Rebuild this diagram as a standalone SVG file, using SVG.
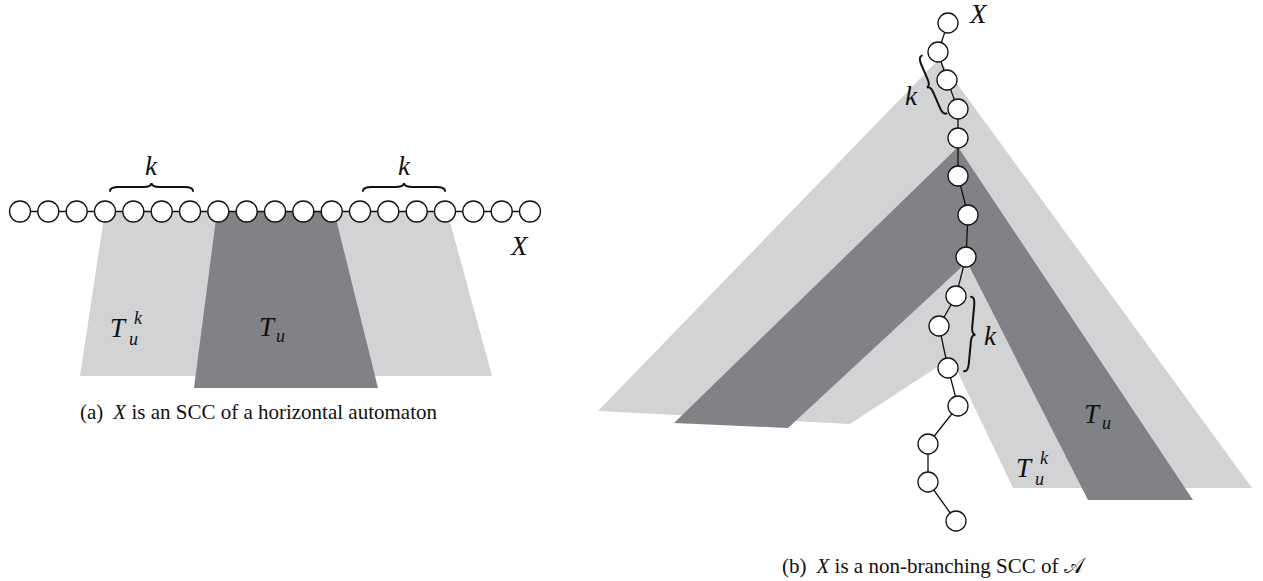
<svg xmlns="http://www.w3.org/2000/svg" width="1263" height="581" viewBox="0 0 1263 581">
<style>
.light{fill:#d1d3d4;stroke:none}
.dark{fill:#808285;stroke:none}
.edge{stroke:#111;stroke-width:1.3;fill:none}
.node circle{fill:#fff;stroke:#111;stroke-width:1.3}
.brace{fill:none;stroke:#111;stroke-width:2;stroke-linecap:round}
.math{font-family:"Liberation Serif",serif;font-style:italic;font-size:27px;fill:#111}
.sub{font-size:18px}
.cap{font-family:"Liberation Serif",serif;font-size:21px;fill:#111}
.cap .it{font-style:italic}
</style>

<!-- (a) shapes -->
<g id="shapes-a">
<polygon class="light" points="105,211 447,211 492,376 80,376"/>
<polygon class="dark" points="217,211 334,211 378,388 194,388"/>
</g>
<!-- (b) shapes -->
<g id="shapes-b">
<polygon class="light" points="939,59 598,411 850,424 951,358 1013,488 1252,488"/>
<polygon class="dark" points="958,147 674,423 788,428 967,262 1088,500 1193,500"/>
</g>

<g id="connectors">
<line class="edge" x1="20" y1="211.5" x2="530" y2="211.5"/>
<polyline class="edge" points="948,23 938,52 947,80 958,109 958,138 958,176 968,215 966,257 956,296 939,326 948,368 958,406 928,444 928,482 956,521"/>
</g>

<g id="nodes-a" class="node">
<circle id="a0" cx="20" cy="211.5" r="10.5"/>
<circle id="a1" cx="48.3" cy="211.5" r="10.5"/>
<circle id="a2" cx="76.7" cy="211.5" r="10.5"/>
<circle id="a3" cx="105" cy="211.5" r="10.5"/>
<circle id="a4" cx="133.3" cy="211.5" r="10.5"/>
<circle id="a5" cx="161.7" cy="211.5" r="10.5"/>
<circle id="a6" cx="190" cy="211.5" r="10.5"/>
<circle id="a7" cx="218.3" cy="211.5" r="10.5"/>
<circle id="a8" cx="246.7" cy="211.5" r="10.5"/>
<circle id="a9" cx="275" cy="211.5" r="10.5"/>
<circle id="a10" cx="303.3" cy="211.5" r="10.5"/>
<circle id="a11" cx="331.7" cy="211.5" r="10.5"/>
<circle id="a12" cx="360" cy="211.5" r="10.5"/>
<circle id="a13" cx="388.3" cy="211.5" r="10.5"/>
<circle id="a14" cx="416.7" cy="211.5" r="10.5"/>
<circle id="a15" cx="445" cy="211.5" r="10.5"/>
<circle id="a16" cx="473.3" cy="211.5" r="10.5"/>
<circle id="a17" cx="501.7" cy="211.5" r="10.5"/>
<circle id="a18" cx="530" cy="211.5" r="10.5"/>
</g>

<g id="nodes-b" class="node">
<circle id="b0" cx="948" cy="23" r="10"/>
<circle id="b1" cx="938" cy="52" r="10"/>
<circle id="b2" cx="947" cy="80" r="10"/>
<circle id="b3" cx="958" cy="109" r="10"/>
<circle id="b4" cx="958" cy="138" r="10"/>
<circle id="b5" cx="958" cy="176" r="10"/>
<circle id="b6" cx="968" cy="215" r="10"/>
<circle id="b7" cx="966" cy="257" r="10"/>
<circle id="b8" cx="956" cy="296" r="10"/>
<circle id="b9" cx="939" cy="326" r="10"/>
<circle id="b10" cx="948" cy="368" r="10"/>
<circle id="b11" cx="958" cy="406" r="10"/>
<circle id="b12" cx="928" cy="444" r="10"/>
<circle id="b13" cx="928" cy="482" r="10"/>
<circle id="b14" cx="956" cy="521" r="10"/>
</g>

<g id="braces">
<path class="brace" transform="translate(110,187)" d="M0,4 C0,1.5 3,0 9,0 L33,0 C38,0 41.5,-1 41.5,-4 C41.5,-1 45,0 50,0 L74,0 C80,0 83,1.5 83,4"/>
<path class="brace" transform="translate(363,187)" d="M0,4 C0,1.5 3,0 9,0 L32,0 C37,0 41,-1 41,-4 C41,-1 45,0 50,0 L73,0 C79,0 82,1.5 82,4"/>
<path class="brace" transform="translate(943,115) rotate(246.7)" d="M0,4 C0,1.5 3,0 8,0 L24,0 C29,0 31.5,-1 31.5,-4 C31.5,-1 34,0 39,0 L55,0 C60,0 63,1.5 63,4"/>
<path class="brace" transform="translate(975,297) rotate(95.3)" d="M0,4 C0,1.5 3,0 8,0 L30,0 C35,0 37.5,-1 37.5,-4 C37.5,-1 40,0 45,0 L67,0 C72,0 75,1.5 75,4"/>
</g>

<g id="labels">
<text class="math" x="145" y="175">k</text>
<text class="math" x="398" y="175">k</text>
<text class="math" x="511" y="255">X</text>
<text class="math" x="110" y="337">T</text>
<text class="math sub" x="129" y="345">u</text>
<text class="math sub" x="134" y="324">k</text>
<text class="math" x="259" y="336">T</text>
<text class="math sub" x="276" y="342">u</text>
<text class="math" x="970" y="23">X</text>
<text class="math" x="905" y="105">k</text>
<text class="math" x="984" y="345">k</text>
<text class="math" x="1084" y="423">T</text>
<text class="math sub" x="1102" y="429">u</text>
<text class="math" x="1016" y="477">T</text>
<text class="math sub" x="1035" y="485">u</text>
<text class="math sub" x="1040" y="464">k</text>
</g>

<g id="captions">
<text class="cap" x="80" y="419">(a)<tspan class="it" dx="10">X</tspan> is an SCC of a horizontal automaton</text>
<text class="cap" x="782" y="573">(b)<tspan class="it" dx="10">X</tspan> is a non-branching SCC of <tspan style="font-family:'DejaVu Serif','DejaVu Sans',serif">𝒜</tspan></text>
</g>
</svg>
